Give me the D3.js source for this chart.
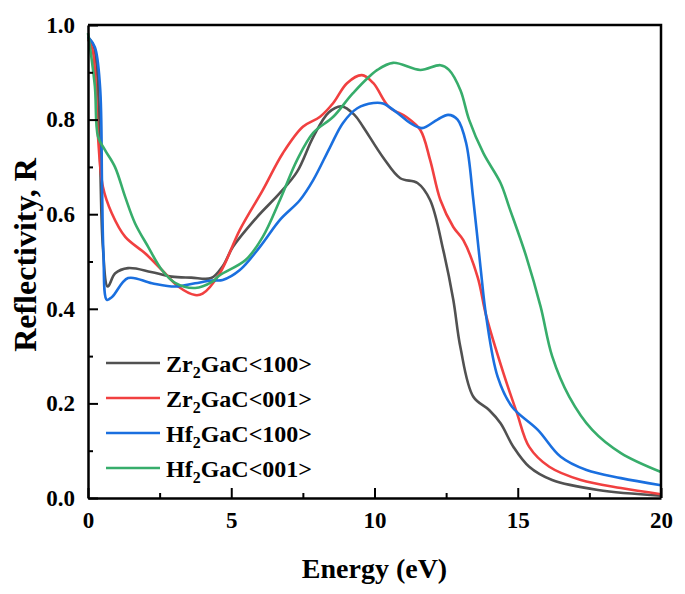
<!DOCTYPE html>
<html lang="en">
<head>
<meta charset="utf-8">
<title>Reflectivity</title>
<script src="https://cdn.jsdelivr.net/npm/d3@7"></script>
<style>
  body { margin: 0; background: #fff; }
  text { font-family: "Liberation Serif", "Times New Roman", serif; font-weight: bold; fill: #000; }
</style>
</head>
<body>
<script>
// series names, colours
var seriesNames = [["Zr", "GaC<100>"], ["Zr", "GaC<001>"], ["Hf", "GaC<100>"], ["Hf", "GaC<001>"]];
var seriesColors = ["#515151", "#f14040", "#1a6fdf", "#37ad6b"];

// energy (eV) / reflectivity pairs
var zrGaC100 = [[0,0.975],[0.2,0.955],[0.32,0.9],[0.42,0.72],[0.52,0.53],[0.69,0.447],[0.95,0.475],[1.4,0.486],[2.2,0.478],[2.92,0.468],[3.6,0.466],[4.3,0.465],
  [4.7,0.49],[5.06,0.531],[5.9,0.594],[6.7,0.645],[7.3,0.69],[7.86,0.763],[8.4,0.815],[8.85,0.828],[9.3,0.81],[9.6,0.785],[10.3,0.72],[10.9,0.676],
  [11.5,0.666],[11.94,0.63],[12.4,0.524],[12.75,0.419],[13.0,0.318],[13.45,0.214],[14.0,0.186],[14.4,0.158],[14.85,0.108],[15.4,0.066],[16.2,0.038],
  [17.8,0.017],[20,0.005]];
var zrGaC001 = [[0,0.97],[0.15,0.95],[0.24,0.905],[0.35,0.764],[0.52,0.658],[0.83,0.602],[1.3,0.552],[2.0,0.517],[2.58,0.482],[3.15,0.447],[3.74,0.429],
  [4.0,0.432],[4.6,0.475],[5.3,0.567],[6.1,0.651],[6.8,0.729],[7.5,0.785],[8.1,0.806],[8.56,0.835],[9.04,0.877],[9.56,0.894],[9.96,0.877],[10.5,0.827],
  [11.1,0.806],[11.6,0.778],[11.94,0.715],[12.3,0.63],[12.75,0.573],[13.1,0.545],[13.6,0.467],[13.9,0.385],[14.5,0.264],[14.97,0.18],[15.4,0.108],
  [16.1,0.066],[17.2,0.038],[18.6,0.021],[20,0.008]];
var hfGaC100 = [[0,0.975],[0.24,0.953],[0.42,0.87],[0.49,0.66],[0.54,0.517],[0.66,0.419],[0.84,0.425],[1.4,0.465],[2.23,0.454],[3.04,0.447],[3.74,0.454],
  [4.33,0.46],[4.7,0.461],[5.3,0.482],[6.0,0.531],[6.7,0.588],[7.4,0.63],[7.86,0.672],[8.45,0.742],[8.9,0.793],[9.4,0.824],[9.96,0.835],[10.3,0.834],
  [10.8,0.814],[11.24,0.793],[11.66,0.782],[12.2,0.8],[12.57,0.81],[12.9,0.8],[13.2,0.75],[13.45,0.63],[13.7,0.488],[13.9,0.383],[14.3,0.256],
  [14.8,0.193],[15.7,0.144],[16.5,0.087],[17.4,0.059],[18.6,0.042],[20,0.027]];
var hfGaC001 = [[0,0.983],[0.24,0.87],[0.35,0.764],[0.59,0.736],[0.94,0.7],[1.3,0.636],[1.64,0.581],[2.1,0.531],[2.58,0.482],[3.04,0.455],[3.74,0.444],
  [4.33,0.457],[4.6,0.471],[5.5,0.503],[6.1,0.552],[6.7,0.63],[7.3,0.715],[7.86,0.772],[8.56,0.806],[9.25,0.856],[10.1,0.905],[10.65,0.92],[11.6,0.905],
  [12.3,0.915],[12.6,0.905],[13.0,0.862],[13.3,0.8],[13.8,0.729],[14.4,0.666],[14.7,0.615],[15.3,0.51],[15.8,0.404],[16.2,0.3],[16.8,0.214],
  [17.6,0.144],[18.6,0.095],[20,0.055]];
var allSeries = [zrGaC100, zrGaC001, hfGaC100, hfGaC001];

// tick values
var xTicks = [0, 5, 10, 15, 20];
var xMinor = [2.5, 7.5, 12.5, 17.5];
var yTicks = [0, 0.2, 0.4, 0.6, 0.8, 1.0];
var yMinor = [0.1, 0.3, 0.5, 0.7, 0.9];

var width = 685, height = 594;
var plotLeft = 88, plotRight = 661, plotTop = 25, plotBottom = 498;

var svg = d3.select("body").append("svg")
  .attr("width", width)
  .attr("height", height);

var x = d3.scaleLinear().domain([0, 20]).range([plotLeft, plotRight]);
var y = d3.scaleLinear().domain([0, 1]).range([plotBottom, plotTop]);

// curves (centripetal catmull-rom keeps them smooth without big overshoot)
var line = d3.line()
  .x(function(d) { return x(d[0]); })
  .y(function(d) { return y(d[1]); })
  .curve(d3.curveCatmullRom.alpha(0.5));

svg.append("g")
  .selectAll("path")
  .data(allSeries)
  .enter()
  .append("path")
  .attr("d", line)
  .attr("fill", "none")
  .attr("stroke", function(d, i) { return seriesColors[i]; })
  .attr("stroke-width", 2.6)
  .attr("stroke-linejoin", "round");

// frame: top and right plain lines
svg.append("path")
  .attr("d", "M" + plotLeft + "," + plotTop + "H" + plotRight + "V" + plotBottom)
  .attr("fill", "none")
  .attr("stroke", "#000")
  .attr("stroke-width", 2.5);

// x axis, ticks pointing inward
var xAxis = svg.append("g")
  .attr("transform", "translate(0," + plotBottom + ")")
  .call(d3.axisBottom(x).tickValues(xTicks).tickSize(-10).tickPadding(22).tickSizeOuter(0)
    .tickFormat(d3.format("d")));
xAxis.append("g")
  .call(d3.axisBottom(x).tickValues(xMinor).tickSize(-5).tickFormat("").tickSizeOuter(0))
  .select(".domain").remove();

// y axis
var yAxis = svg.append("g")
  .attr("transform", "translate(" + plotLeft + ",0)")
  .call(d3.axisLeft(y).tickValues(yTicks).tickSize(-10).tickPadding(13).tickSizeOuter(0)
    .tickFormat(d3.format(".1f")));
yAxis.append("g")
  .call(d3.axisLeft(y).tickValues(yMinor).tickSize(-5).tickFormat("").tickSizeOuter(0))
  .select(".domain").remove();

svg.selectAll(".domain").attr("stroke-width", 2.5).attr("stroke", "#000");
svg.selectAll(".tick line").attr("stroke-width", 2).attr("stroke", "#000");
svg.selectAll(".tick text")
  .style("font-family", "'Liberation Serif', 'Times New Roman', serif")
  .style("font-weight", "bold")
  .style("font-size", "23px")
  .attr("fill", "#000");
xAxis.selectAll(".tick text").attr("dy", "0.35em");

// axis titles
svg.append("text")
  .attr("x", (plotLeft + plotRight) / 2)
  .attr("y", 578)
  .attr("text-anchor", "middle")
  .style("font-size", "28px")
  .text("Energy (eV)");

svg.append("text")
  .attr("transform", "translate(36," + 255 + ") rotate(-90)")
  .attr("text-anchor", "middle")
  .style("font-size", "32px")
  .text("Reflectivity, R");

// legend
var legend = svg.append("g")
  .selectAll("g")
  .data(seriesNames)
  .enter()
  .append("g")
  .attr("transform", function(d, i) { return "translate(106," + (363 + i * 35) + ")"; });

legend.append("line")
  .attr("x1", 0).attr("x2", 54)
  .attr("stroke", function(d, i) { return seriesColors[i]; })
  .attr("stroke-width", 2.6);

var lt = legend.append("text")
  .attr("x", 60)
  .attr("y", 9)
  .style("font-size", "24px");
lt.append("tspan").text(function(d) { return d[0]; });
lt.append("tspan").attr("dy", 6).style("font-size", "16px").text("2");
lt.append("tspan").attr("dy", -6).text(function(d) { return d[1]; });
</script>
</body>
</html>
